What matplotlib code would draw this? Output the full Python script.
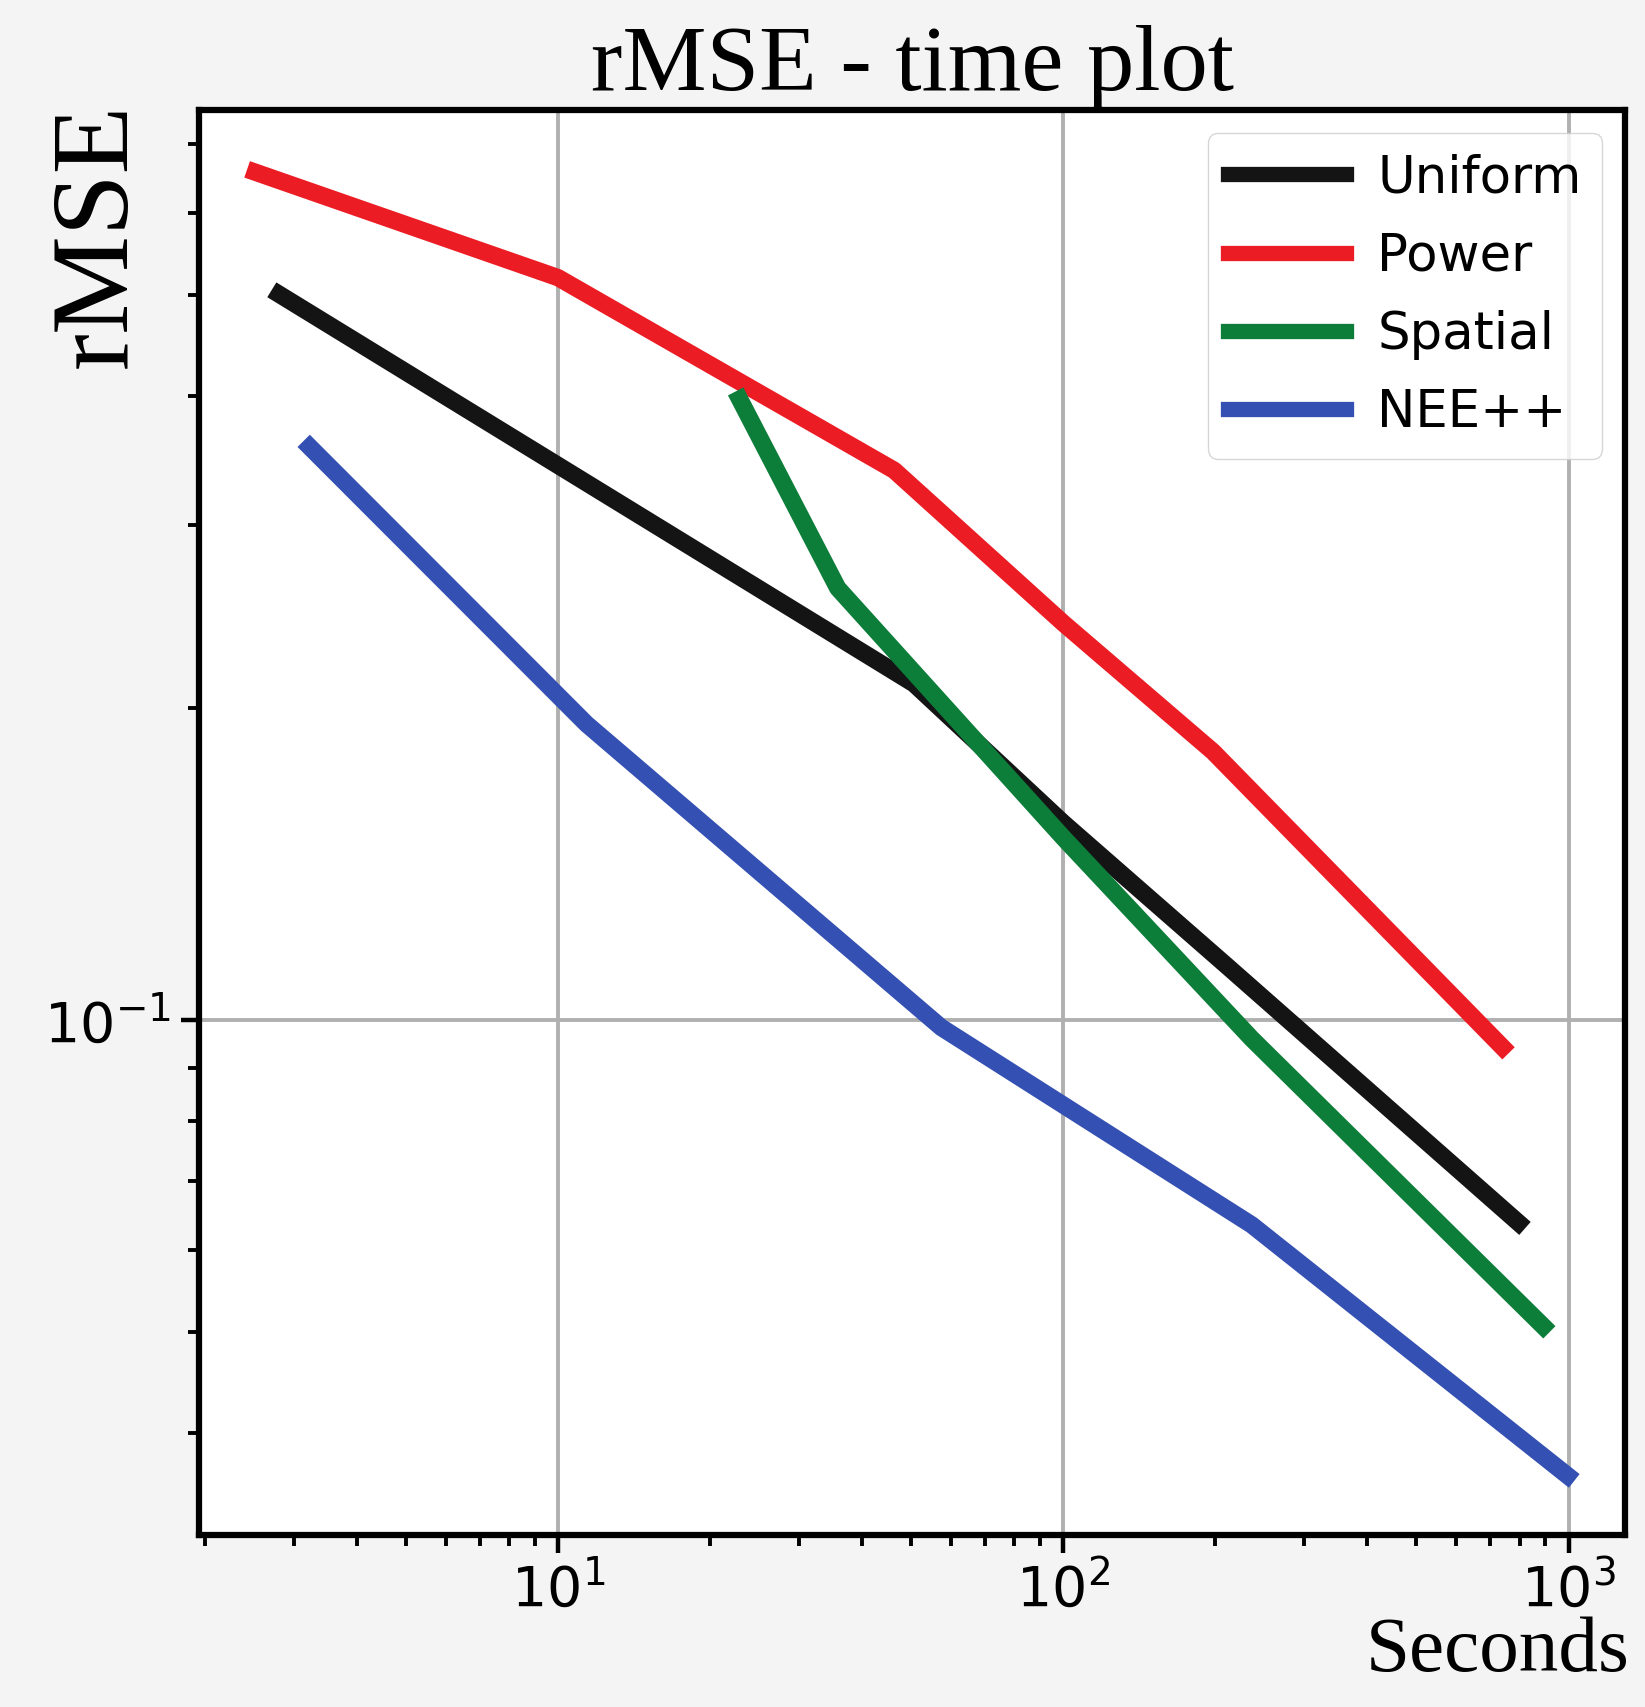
"""rMSE versus wall-clock time, log-log, four sampling strategies."""

import matplotlib

matplotlib.use("Agg")
import matplotlib.pyplot as plt
from matplotlib.ticker import NullFormatter

# values
labels = ["Uniform", "Power", "Spatial", "NEE++"]
colors = ["#141414", "#ec1c24", "#0d7d3a", "#3450b2"]

uniform_time = [2.81, 50.7, 100.0, 210.0, 796.0]
uniform_rmse = [0.501, 0.211, 0.155, 0.113, 0.0638]

power_time = [2.52, 10.0, 46.3, 100.0, 198.0, 740.0]
power_rmse = [0.657, 0.520, 0.339, 0.2415, 0.1815, 0.0942]

spatial_time = [22.9, 35.8, 100.0, 236.0, 891.0]
spatial_rmse = [0.397, 0.261, 0.150, 0.096, 0.0507]

nee_time = [3.23, 11.4, 57.4, 236.0, 995.0]
nee_rmse = [0.357, 0.193, 0.0984, 0.0635, 0.0364]

series = [
    (uniform_time, uniform_rmse),
    (power_time, power_rmse),
    (spatial_time, spatial_rmse),
    (nee_time, nee_rmse),
]

serif = ["Liberation Serif", "DejaVu Serif"]

figure = plt.figure(figsize=(16.45, 17.07), dpi=100, facecolor="#f4f4f4")
axis = figure.add_axes([0.121, 0.1008, 0.867, 0.835])
axis.set_facecolor("white")

for (times, values), label, color in zip(series, labels, colors):
    axis.plot(times, values, color=color, linewidth=12.5, label=label)

axis.set_xscale("log")
axis.set_yscale("log")
axis.set_xlim(1.95, 1295)
axis.set_ylim(0.0319, 0.755)
axis.yaxis.set_minor_formatter(NullFormatter())
axis.xaxis.set_minor_formatter(NullFormatter())

axis.grid(True, which="major", color="#b0b0b0", linewidth=2.8)
axis.tick_params(which="major", length=13, width=3.2, labelsize=40, pad=7)
axis.tick_params(which="minor", length=8, width=2.8)
for spine in axis.spines.values():
    spine.set_linewidth(4.5)

axis.set_title("rMSE - time plot", fontsize=68, family=serif, pad=8)
axis.set_ylabel("rMSE", fontsize=80, family=serif, loc="top")
axis.yaxis.set_label_coords(-0.035, 1.005)
axis.set_xlabel("Seconds", fontsize=57, family=serif, loc="right")
axis.xaxis.set_label_coords(1.003, -0.057)

legend = axis.legend(
    loc="upper right",
    fontsize=37,
    handlelength=2.3,
    handletextpad=0.6,
    labelspacing=0.55,
    borderaxespad=0.45,
)
for handle in legend.get_lines():
    handle.set_linewidth(11)

figure.savefig("out.png", dpi=100, facecolor=figure.get_facecolor())
plt.close(figure)
